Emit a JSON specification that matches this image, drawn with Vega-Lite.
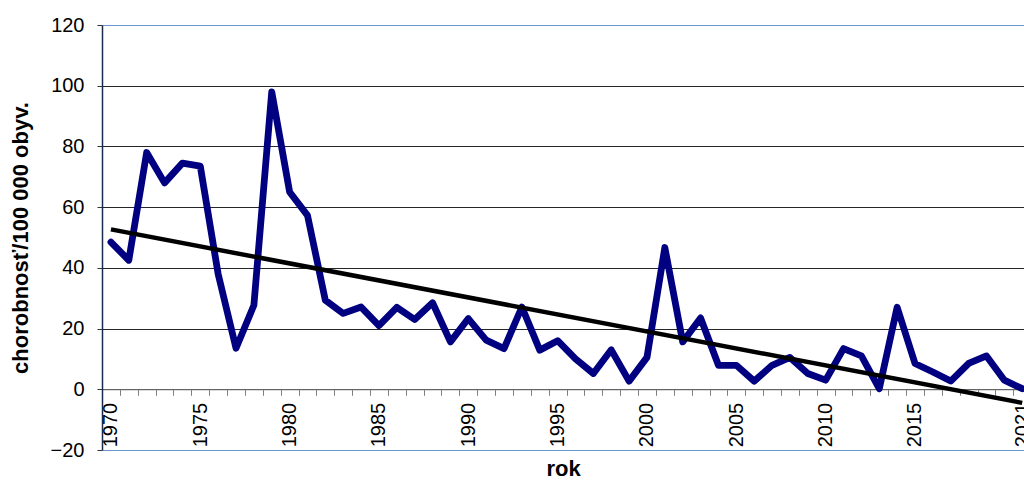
{
  "$schema": "https://vega.github.io/schema/vega-lite/v6.json",
  "width": 922,
  "height": 425,
  "autosize": {"type": "none"},
  "padding": {"left": 102, "top": 25, "right": 0, "bottom": 32},
  "background": "white",
  "config": {"view": {"stroke": null}, "font": "Liberation Sans"},
  "data": {"values": [
    {"rok": 1970, "chorobnost": 48.5},
    {"rok": 1971, "chorobnost": 42.5},
    {"rok": 1972, "chorobnost": 78},
    {"rok": 1973, "chorobnost": 68},
    {"rok": 1974, "chorobnost": 74.5},
    {"rok": 1975, "chorobnost": 73.5},
    {"rok": 1976, "chorobnost": 38},
    {"rok": 1977, "chorobnost": 13.5},
    {"rok": 1978, "chorobnost": 27.7},
    {"rok": 1979, "chorobnost": 98},
    {"rok": 1980, "chorobnost": 65},
    {"rok": 1981, "chorobnost": 57.3},
    {"rok": 1982, "chorobnost": 29.3},
    {"rok": 1983, "chorobnost": 25},
    {"rok": 1984, "chorobnost": 27.1},
    {"rok": 1985, "chorobnost": 21},
    {"rok": 1986, "chorobnost": 27},
    {"rok": 1987, "chorobnost": 23},
    {"rok": 1988, "chorobnost": 28.5},
    {"rok": 1989, "chorobnost": 15.6},
    {"rok": 1990, "chorobnost": 23.3},
    {"rok": 1991, "chorobnost": 16.2},
    {"rok": 1992, "chorobnost": 13.4},
    {"rok": 1993, "chorobnost": 27.1},
    {"rok": 1994, "chorobnost": 12.9},
    {"rok": 1995, "chorobnost": 16},
    {"rok": 1996, "chorobnost": 10},
    {"rok": 1997, "chorobnost": 5.2},
    {"rok": 1998, "chorobnost": 13},
    {"rok": 1999, "chorobnost": 2.7},
    {"rok": 2000, "chorobnost": 10.5},
    {"rok": 2001, "chorobnost": 46.7},
    {"rok": 2002, "chorobnost": 15.6},
    {"rok": 2003, "chorobnost": 23.5},
    {"rok": 2004, "chorobnost": 7.9},
    {"rok": 2005, "chorobnost": 7.9},
    {"rok": 2006, "chorobnost": 2.7},
    {"rok": 2007, "chorobnost": 7.9},
    {"rok": 2008, "chorobnost": 10.5},
    {"rok": 2009, "chorobnost": 5.2},
    {"rok": 2010, "chorobnost": 3},
    {"rok": 2011, "chorobnost": 13.4},
    {"rok": 2012, "chorobnost": 11},
    {"rok": 2013, "chorobnost": 0.2},
    {"rok": 2014, "chorobnost": 27},
    {"rok": 2015, "chorobnost": 8.5},
    {"rok": 2016, "chorobnost": 5.7},
    {"rok": 2017, "chorobnost": 2.7},
    {"rok": 2018, "chorobnost": 8.5},
    {"rok": 2019, "chorobnost": 11},
    {"rok": 2020, "chorobnost": 3},
    {"rok": 2021, "chorobnost": 0.2}
  ]},
  "encoding": {
    "x": {
      "field": "rok",
      "type": "quantitative",
      "scale": {"domain": [1969.5, 2021.1], "nice": false, "zero": false},
      "axis": {
        "title": "rok",
        "titleFont": "Liberation Sans",
        "titleFontSize": 22,
        "titleFontWeight": "bold",
        "titleColor": "black",
        "titlePadding": 12,
        "offset": -60.71,
        "values": [1969.5,1970.5,1971.5,1972.5,1973.5,1974.5,1975.5,1976.5,1977.5,1978.5,1979.5,1980.5,1981.5,1982.5,1983.5,1984.5,1985.5,1986.5,1987.5,1988.5,1989.5,1990.5,1991.5,1992.5,1993.5,1994.5,1995.5,1996.5,1997.5,1998.5,1999.5,2000.5,2001.5,2002.5,2003.5,2004.5,2005.5,2006.5,2007.5,2008.5,2009.5,2010.5,2011.5,2012.5,2013.5,2014.5,2015.5,2016.5,2017.5,2018.5,2019.5,2020.5],
        "labelExpr": "((datum.value + 0.5) % 5 == 0 && datum.value < 2019) || datum.value == 2020.5 ? ('' + (datum.value + 0.5)) : ''",
        "labelAngle": -90,
        "labelAlign": "right",
        "labelBaseline": "middle",
        "labelOffset": 8.93,
        "labelFontSize": 20,
        "labelColor": "black",
        "labelPadding": 7,
        "labelOverlap": false,
        "labelFlush": false,
        "labelBound": false,
        "tickSize": 6,
        "tickColor": "#7f7f7f",
        "domainColor": "#7f7f7f",
        "grid": false
      }
    },
    "y": {
      "field": "chorobnost",
      "type": "quantitative",
      "scale": {"domain": [-20, 120], "nice": false, "zero": false},
      "axis": {
        "title": "chorobnosť/100 000 obyv.",
        "titleFont": "Liberation Sans",
        "titleFontSize": 22,
        "titleFontWeight": "bold",
        "titleColor": "black",
        "titlePadding": 18,
        "values": [-20, 0, 20, 40, 60, 80, 100, 120],
        "labelFontSize": 20,
        "labelColor": "black",
        "labelPadding": 13,
        "tickSize": 5,
        "tickColor": "#333333",
        "domainColor": "#1a2a4a",
        "domainWidth": 1.5,
        "grid": true,
        "gridColor": {"condition": {"test": "datum.value == 120 || datum.value == -20", "value": "#6a96d0"}, "value": "#262626"},
        "gridWidth": 1
      }
    }
  },
  "layer": [
    {
      "mark": {"type": "line", "color": "#000080", "strokeWidth": 6.8, "strokeJoin": "round", "strokeCap": "round"}
    },
    {
      "transform": [{"regression": "chorobnost", "on": "rok", "extent": [1970, 2021]}],
      "mark": {"type": "line", "color": "black", "strokeWidth": 4.5}
    }
  ]
}
